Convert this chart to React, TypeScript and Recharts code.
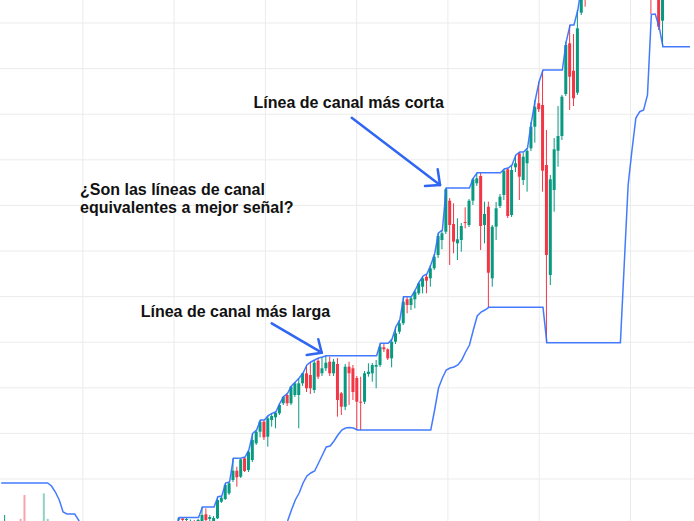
import React from 'react';
import { ComposedChart, Bar, Line, XAxis, YAxis, CartesianGrid, ReferenceLine, Cell } from 'recharts';

const W = 694;
const H = 521;
const UP = '#089981';
const DOWN = '#f23645';
const CHANNEL = '#2f6bff';
const ARROW = '#2f66f2';

const nulls = (n: number) => Array.from({ length: n }, () => null as number | null);

// Bar index domain and grid positions (bar units)
const xDomain = [-0.31, 179.02];
const xTicks = [21.09, 44.68, 68.26, 91.85, 115.43, 139.02, 162.6];
// Price domain and grid levels
const yDomain = [79, 600];
const yTicks = [121, 166.6, 212.2, 257.8, 303.4, 349, 394.6, 440.2, 485.8, 531.4, 577];

// OHLC per bar index (null = not visible / no bar)
const opens: (number | null)[] = [
  null, 70, ...nulls(44),
  80.5, 81.5, 80, 77, 79, 77, 79, 85.7, 81, 79,
  81.7, 98.3, 101, 106.7, 120, 129.3, 123.3, 141.7, 130, 140,
  156.7, 168.3, 178.3, 163.3, 180, 182.7, 186.7, 196.7, 205, 196.7,
  205, 205, 216.7, 226.7, 225, 210, 239.3, 226.7, 231.7, 238.3,
  226.7, 236, 206.7, 193.3, 233.3, 231.7, 222, 198.3, 198.3, 226,
  226.7, 233.3, 235, 252.7, 250.7, 241.7, 258.3, 268.3, 276.7, 300.7,
  295, 300.7, 306.7, 313.3, 323.3, 321.7, 331.7, 345, 360, 368.3,
  399.3, 376, 356.7, 360, 378, 375, 399.3, 416.7, 424, 375,
  393.3, 321.7, 373.3, 394, 405, 430.7, 385, 432.7, 446.7, 420,
  436.7, 451.7, 473.3, 496.7, 495, 435, 325, 410, 449.3, 464,
  506, 556.7, 529.3, 507.3, 587.3, 620,
  ...nulls(16), 640, null, 640, 579.3,
];
const highs: (number | null)[] = [
  null, 85, ...nulls(44),
  82.5, 82.5, 82, 80.5, 80, 81, 93, 91.7, 85, 84,
  103.3, 104, 117, 118, 141.7, 133.3, 142, 143, 150, 166.7,
  170, 180, 180, 184.3, 186.7, 188.3, 196.7, 203.5, 206.7, 214,
  218, 222, 227, 235, 238, 240, 242, 243, 244.3, 243.3,
  241, 242, 208, 236, 238.3, 235, 224, 223.3, 229, 236.7,
  237, 240, 256.7, 256, 251.7, 261, 273.3, 280, 303.3, 303,
  303, 310, 318, 324, 326, 335, 346, 367, 370, 412,
  402, 396.7, 381.7, 377, 392.7, 401, 422, 427.3, 427, 398.3,
  398.3, 375, 398, 406, 431, 432, 435, 445, 448, 447,
  452, 478, 500, 518.3, 530, 470, 425, 462, 494, 505,
  558.3, 575, 566, 590, 615, 625,
  ...nulls(16), 650, null, 650, 650,
];
const lows: (number | null)[] = [
  null, 65, ...nulls(44),
  79, 77, 77, 74, 73, 75, 76, 78, 79, 78,
  81, 97, 100, 105, 118, 113.3, 122, 128, 128, 138,
  155, 162.7, 160, 153.3, 173.3, 171.7, 185, 195, 194, 195,
  203, 171.7, 214, 208, 206, 207, 221, 224, 229, 224,
  224, 183.3, 185, 190, 195, 200, 170, 170, 196, 223.3,
  218.3, 211.7, 233, 248, 240, 232.7, 256, 266, 275, 286.7,
  290, 291.7, 305, 306.7, 306.7, 313.3, 330, 342, 350.7, 366,
  335, 346.7, 340, 348.3, 371.7, 373, 395, 414, 350, 356.7,
  292.7, 313.3, 360, 392, 400, 382, 383, 428, 400, 415,
  408.3, 449, 457.3, 488, 408.3, 257.3, 315, 388.3, 433.3, 460,
  504, 490, 494, 505, 585, 593.3,
  ...nulls(16), 586, null, 570, 553.3,
];
const closes: (number | null)[] = [
  null, 78, ...nulls(44),
  81.7, 80, 81, 79, 77, 80, 85, 80, 83, 82,
  100, 102.3, 115, 116.7, 129.3, 122.7, 140.7, 129, 148.3, 160,
  168.3, 178.3, 162.7, 181.7, 184, 187.3, 195, 203.3, 196.7, 213.3,
  216.7, 216.7, 226.7, 211.7, 211.7, 237.3, 223.3, 231.7, 237.3, 226.7,
  238.3, 200, 193.3, 233.3, 226.7, 208, 198.3, 197.5, 226.7, 228.3,
  235, 235, 253.3, 250.7, 241.7, 258.3, 266.7, 276.7, 298.3, 295,
  301.7, 308.3, 316.7, 321.7, 319.3, 331.7, 343.3, 364, 366.7, 410.7,
  375, 358.3, 360.7, 374, 377, 399.3, 420.7, 421.7, 374, 386,
  327.3, 373.3, 391.7, 403.3, 429.3, 384, 430, 436.7, 423.3, 443.3,
  449.3, 473.3, 493.3, 490.7, 429.3, 345, 420.7, 450.7, 464, 503.3,
  555, 523.3, 501.7, 571.7, 610, 603,
  ...nulls(16), 610, null, 573.3, 640,
];

// Donchian channel lines (per bar index 0..178)
const upperChannel: number[] = [
  117, 117, 117, 117, 117, 117, 117, 117, 117, 117, 117, 117, 117,
  114, 108, 100, 88, 86, 86, 86, 80, 70,
  66, 66, 66, 66, 66, 66, 66, 66, 66, 66, 66, 66, 66, 66, 66, 66, 66, 66, 66, 66, 66, 66, 66,
  72,
  82.5, 82.5, 82.5, 82.5, 82.5, 82.5,
  93, 93, 93, 93,
  103.3, 104, 117, 118, 141.7, 141.7, 142, 143, 150, 166.7,
  170, 180, 180, 184.3, 186.7, 188.3, 196.7, 203.5, 206.7, 214,
  218, 222, 227, 235, 238, 240, 242, 243,
  244.3, 244.3, 244.3, 244.3, 244.3, 244.3, 244.3, 244.3, 244.3, 244.3, 244.3, 244.3, 244.3, 244.3,
  256.7, 256.7, 256.7,
  261, 273.3, 280,
  303.3, 303.3, 303.3,
  310, 318, 324, 326, 335, 346, 367, 370,
  412, 412, 412, 412, 412, 412, 412,
  422,
  427.3, 427.3, 427.3, 427.3, 427.3, 427.3, 427.3,
  431, 432, 435, 445, 448, 448, 452, 478, 500, 518.3,
  530, 530, 530, 530, 530, 530,
  558.3, 575, 575, 590, 615, 625,
  640, 640, 640, 640, 640, 640, 640, 640, 640, 640, 640, 640, 640, 640,
  640, 640, 640, 640, 640, 640, 640, 640, 640, 640, 640, 640, 640,
];
const lowerChannel: number[] = [
  ...Array.from({ length: 72 }, () => 55),
  60, 70, 79, 90, 100, 107, 117, 124, 127, 129,
  137, 145, 153, 154, 159, 165, 170, 172, 172.5, 172,
  170, 170, 170, 170, 170, 170, 170, 170, 170, 170,
  170, 170, 170, 170, 170, 170, 170, 170, 170, 170,
  190, 212, 222, 230, 232, 233, 235, 240, 248, 255, 270, 284, 288, 290,
  292.7, 292.7, 292.7, 292.7, 292.7, 292.7, 292.7, 292.7, 292.7, 292.7,
  292.7, 292.7, 292.7, 292.7, 292.7,
  257.3, 257.3, 257.3, 257.3, 257.3, 257.3, 257.3, 257.3, 257.3, 257.3,
  257.3, 257.3, 257.3, 257.3, 257.3, 257.3, 257.3, 257.3, 257.3, 257.3,
  336, 415, 450, 482, 488.3, 490, 505, 585.5, 586, 573.3,
  553.3, 553.3, 553.3, 553.3, 553.3, 553.3, 553.3, 553.3,
];

// Faded volume bars at the left edge
const volumeIndex = [5, 6, 11, 12];
const volumeValue = [0.4, 5.0, 5.3, 0.4];
const volumeUp = [false, false, true, true];

// Annotations
const annotations = [
  { text: 'Línea de canal más corta', x: 253.5, y: 108 },
  { text: '¿Son las líneas de canal', x: 80, y: 195 },
  { text: 'equivalentes a mejor señal?', x: 80, y: 213 },
  { text: 'Línea de canal más larga', x: 140.7, y: 317 },
];
const arrowSegments = [
  [{ x: 90.57, y: 482.3 }, { x: 113.39, y: 415 }],
  [{ x: 113.39, y: 415 }, { x: 112.79, y: 430.7 }],
  [{ x: 113.39, y: 415 }, { x: 109.51, y: 414 }],
  [{ x: 69.9, y: 276.7 }, { x: 82.82, y: 247.3 }],
  [{ x: 82.82, y: 247.3 }, { x: 81.94, y: 260.7 }],
  [{ x: 82.82, y: 247.3 }, { x: 78.94, y: 245 }],
];

const data = upperChannel.map((u, i) => {
  const o = opens[i] ?? null;
  const h = highs[i] ?? null;
  const l = lows[i] ?? null;
  const c = closes[i] ?? null;
  const vi = volumeIndex.indexOf(i);
  return {
    i,
    upper: u,
    lower: lowerChannel[i],
    o, h, l, c,
    range: o == null || h == null || l == null || c == null ? null : [l, h],
    vol: vi >= 0 ? volumeValue[vi] : null,
    volUp: vi >= 0 ? volumeUp[vi] : true,
  };
});

const Candle = (props: any) => {
  const { x, y, width, height, payload } = props;
  if (!payload || payload.range == null) return <g />;
  const { o, h, l, c } = payload;
  const top = Math.min(y, y + height);
  const bottom = Math.max(y, y + height);
  const k = h === l ? 0 : (bottom - top) / (h - l);
  const py = (v: number) => top + (h - v) * k;
  const cx = x + width / 2;
  const color = c >= o ? UP : DOWN;
  const bTop = py(Math.max(o, c));
  const bBot = py(Math.min(o, c));
  return (
    <g>
      <line x1={cx} x2={cx} y1={top} y2={bottom} stroke={color} strokeWidth={1} />
      <rect x={cx - width / 2} y={bTop} width={width} height={Math.max(1, bBot - bTop)} fill={color} />
    </g>
  );
};

const linear = (d: number[], r: number[]) => (v: number) => r[0] + ((v - d[0]) / (d[1] - d[0])) * (r[1] - r[0]);

const vGen = (props: any) => {
  const ax = props && props.xAxis;
  if (ax && typeof ax.scale === 'function') return xTicks.map((t) => ax.scale(t));
  return xTicks.map(linear(xDomain, [0, W]));
};
const hGen = (props: any) => {
  const ax = props && props.yAxis;
  if (ax && typeof ax.scale === 'function') return yTicks.map((t) => ax.scale(t));
  return yTicks.map(linear(yDomain, [H, 0]));
};

export default function App() {
  return (
    <div style={{ position: 'absolute', left: 0, top: 0, width: W, height: H, background: '#ffffff', overflow: 'hidden' }}>
      <ComposedChart width={W} height={H} data={data} margin={{ top: 0, right: 0, bottom: 0, left: 0 }}>
        <CartesianGrid stroke="#ebebeb" strokeWidth={1}
          verticalCoordinatesGenerator={vGen} horizontalCoordinatesGenerator={hGen} />
        <XAxis type="number" dataKey="i" domain={xDomain} ticks={xTicks} interval={0} allowDataOverflow
          tick={false} axisLine={false} tickLine={false} height={0} />
        <YAxis type="number" domain={yDomain} ticks={yTicks} interval={0} allowDataOverflow
          tick={false} axisLine={false} tickLine={false} width={0} />
        <XAxis xAxisId="vol" type="number" dataKey="i" domain={xDomain} allowDataOverflow hide />
        <YAxis yAxisId="vol" type="number" domain={[0, 100]} allowDataOverflow hide />
        <Bar xAxisId="vol" yAxisId="vol" dataKey="vol" barSize={2} isAnimationActive={false}>
          {data.map((d) => (
            <Cell key={d.i} fill={d.volUp ? 'rgba(8,153,129,0.45)' : 'rgba(242,54,69,0.45)'} />
          ))}
        </Bar>
        <Bar dataKey={(d: any) => d.range} barSize={3} isAnimationActive={false} shape={(p: any) => <Candle {...p} />} />
        <Line type="linear" dataKey="upper" stroke={CHANNEL} strokeWidth={1.5} strokeOpacity={0.9} dot={false} activeDot={false} isAnimationActive={false} />
        <Line type="linear" dataKey="lower" stroke={CHANNEL} strokeWidth={1.5} strokeOpacity={0.9} dot={false} activeDot={false} isAnimationActive={false} />
        {arrowSegments.map((seg, k) => (
          <ReferenceLine key={k} segment={seg} stroke={ARROW} strokeWidth={2.5} strokeLinecap="round" ifOverflow="visible" />
        ))}
      </ComposedChart>
      <svg width={W} height={H} style={{ position: 'absolute', left: 0, top: 0, pointerEvents: 'none' }}>
        {annotations.map((a, k) => (
          <text key={k} x={a.x} y={a.y} fontFamily="'Liberation Sans', Arial, sans-serif" fontWeight={700} fontSize={16} fill="#111111">
            {a.text}
          </text>
        ))}
      </svg>
    </div>
  );
}
